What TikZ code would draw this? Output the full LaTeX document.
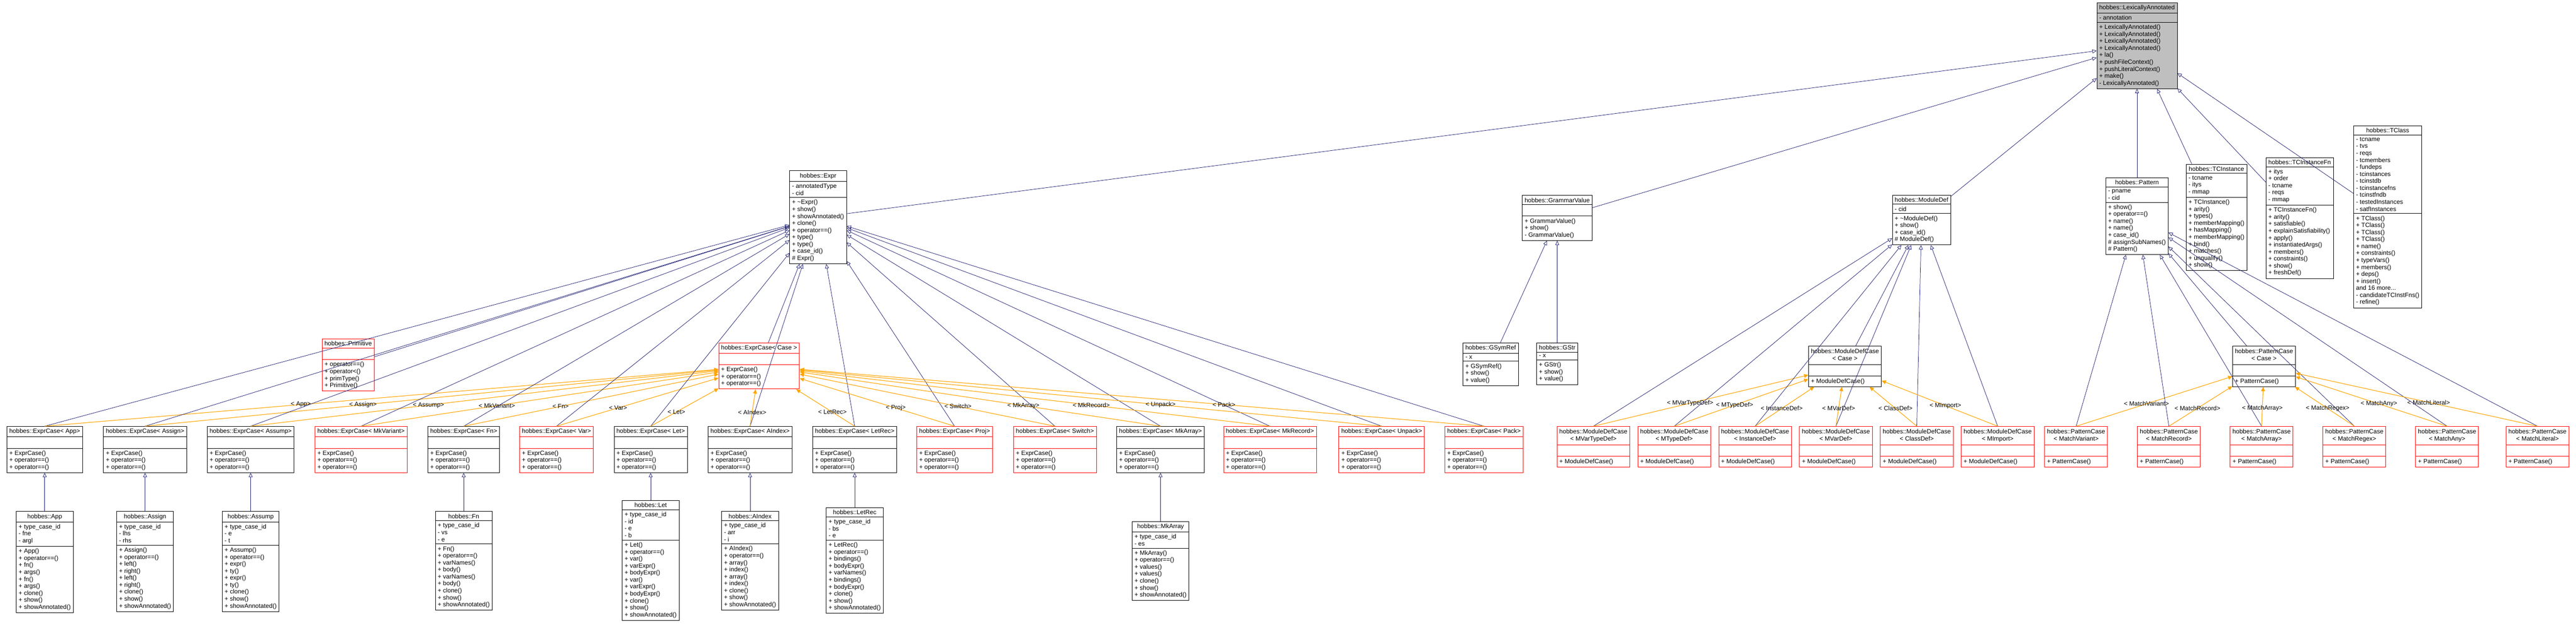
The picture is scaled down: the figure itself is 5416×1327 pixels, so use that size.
\documentclass[tikz,border=0pt]{standalone}
\usepackage{fontspec}
\setmainfont{Liberation Sans}
\usetikzlibrary{shapes.multipart,arrows.meta}
\definecolor{edgeblue}{HTML}{191970}
\definecolor{instorange}{HTML}{FFA500}
\newcommand{\ttl}[2]{\begin{tabular}{@{}c@{}}#1\\#2\end{tabular}}

\begin{document}
\begin{tikzpicture}[
    x=1pt, y=-1pt,
    cls/.style={rectangle split, rectangle split parts=3, draw, line width=0.9pt,
      fill=white, align=left, rectangle split part align={center,left,left},
      inner xsep=5pt, inner ysep=4.5pt,
      rectangle split empty part height=11pt, rectangle split empty part depth=3pt,
      font=\fontsize{13}{14.7}\selectfont, anchor=north},
    undoc/.style={cls, draw=red},
    base/.style={cls, fill=gray!50},
    inh/.style={draw=edgeblue, line width=0.8pt, {Triangle[open,length=9pt,width=8pt]}-},
    inst/.style={draw=instorange, line width=1.2pt, {Triangle[length=9pt,width=8pt]}-},
    elbl/.style={font=\fontsize{13}{14}\selectfont, inner sep=1pt}
   ]
   \useasboundingbox (0,0) rectangle (5416,1327);
   % base class
   \node[base] (lexann) at (4493,5) {hobbes::LexicallyAnnotated
     \nodepart{two} - annotation
     \nodepart{three} + LexicallyAnnotated()\\+ LexicallyAnnotated()\\+ LexicallyAnnotated()\\+ LexicallyAnnotated()\\+ la()\\+ pushFileContext()\\+ pushLiteralContext()\\+ make()\\- LexicallyAnnotated()};

   \node[cls] (expr) at (1720,359) {hobbes::Expr
     \nodepart{two} - annotatedType\\- cid
     \nodepart{three} + \textasciitilde Expr()\\+ show()\\+ showAnnotated()\\+ clone()\\+ operator==()\\+ type()\\+ type()\\+ case\_id()\\\# Expr()};
   \node[cls] (grammar) at (3274,411) {hobbes::GrammarValue
     \nodepart{two}
     \nodepart{three} + GrammarValue()\\+ show()\\- GrammarValue()};
   \node[cls] (moddef) at (4040,410) {hobbes::ModuleDef
     \nodepart{two} - cid
     \nodepart{three} + \textasciitilde ModuleDef()\\+ show()\\+ case\_id()\\\# ModuleDef()};
   \node[cls] (pattern) at (4493,374) {hobbes::Pattern
     \nodepart{two} - pname\\- cid
     \nodepart{three} + show()\\+ operator==()\\+ name()\\+ name()\\+ case\_id()\\\# assignSubNames()\\\# Pattern()};
   \node[cls] (tcinst) at (4660,345) {hobbes::TCInstance
     \nodepart{two} - tcname\\- itys\\- mmap
     \nodepart{three} + TCInstance()\\+ arity()\\+ types()\\+ memberMapping()\\+ hasMapping()\\+ memberMapping()\\+ bind()\\+ matches()\\+ unqualify()\\+ show()};
   \node[cls] (tcinstfn) at (4835,331) {hobbes::TCInstanceFn
     \nodepart{two} + itys\\+ order\\- tcname\\- reqs\\- mmap
     \nodepart{three} + TCInstanceFn()\\+ arity()\\+ satisfiable()\\+ explainSatisfiability()\\+ apply()\\+ instantiatedArgs()\\+ members()\\+ constraints()\\+ show()\\+ freshDef()};
   \node[cls] (tclass) at (5020,264) {hobbes::TClass
     \nodepart{two} - tcname\\- tvs\\- reqs\\- tcmembers\\- fundeps\\- tcinstances\\- tcinstdb\\- tcinstancefns\\- tcinstfndb\\- testedInstances\\- satfInstances
     \nodepart{three} + TClass()\\+ TClass()\\+ TClass()\\+ TClass()\\+ name()\\+ constraints()\\+ typeVars()\\+ members()\\+ deps()\\+ insert()\\and 16 more...\\- candidateTCInstFns()\\- refine()};

   \foreach \n in {expr,grammar,moddef,pattern,tcinst,tcinstfn,tclass}
     \draw[inh] (lexann) -- (\n);

   % expressions
   \node[undoc] (prim) at (732,713) {hobbes::Primitive
     \nodepart{two}
     \nodepart{three} + operator==()\\+ operator<()\\+ primType()\\+ Primitive()};
   \node[undoc] (ecase) at (1596,721) {hobbes::ExprCase< Case >
     \nodepart{two}
     \nodepart{three} + ExprCase()\\+ operator==()\\+ operator==()};
   \draw[inh] (expr) -- (prim);
   \draw[inh] (expr) -- (ecase);

   \foreach \n/\x/\c in {App/94/black, Assign/305/black, Assump/527/black, MkVariant/759/red,
       Fn/975/black, Var/1170/red, Let/1368/black, AIndex/1577/black, LetRec/1797/black,
       Proj/2007/red, Switch/2218/red, MkArray/2440/black, MkRecord/2670/red,
       Unpack/2905/red, Pack/3120/red} {
     \node[cls, draw=\c] (ec\n) at (\x,897) {hobbes::ExprCase< \n >
       \nodepart{two}
       \nodepart{three} + ExprCase()\\+ operator==()\\+ operator==()};
     \draw[inh] (expr) -- (ec\n.north);
     \draw[inst] (ecase) -- node[elbl, pos=0.62] {< \n >} (ec\n.north);
   }

   \node[cls] (app) at (94,1076) {hobbes::App
     \nodepart{two} + type\_case\_id\\- fne\\- argl
     \nodepart{three} + App()\\+ operator==()\\+ fn()\\+ args()\\+ fn()\\+ args()\\+ clone()\\+ show()\\+ showAnnotated()};
   \node[cls] (assign) at (305,1076) {hobbes::Assign
     \nodepart{two} + type\_case\_id\\- lhs\\- rhs
     \nodepart{three} + Assign()\\+ operator==()\\+ left()\\+ right()\\+ left()\\+ right()\\+ clone()\\+ show()\\+ showAnnotated()};
   \node[cls] (assump) at (527,1076) {hobbes::Assump
     \nodepart{two} + type\_case\_id\\- e\\- t
     \nodepart{three} + Assump()\\+ operator==()\\+ expr()\\+ ty()\\+ expr()\\+ ty()\\+ clone()\\+ show()\\+ showAnnotated()};
   \node[cls] (fn) at (975,1076) {hobbes::Fn
     \nodepart{two} + type\_case\_id\\- vs\\- e
     \nodepart{three} + Fn()\\+ operator==()\\+ varNames()\\+ body()\\+ varNames()\\+ body()\\+ clone()\\+ show()\\+ showAnnotated()};
   \node[cls] (let) at (1368,1053) {hobbes::Let
     \nodepart{two} + type\_case\_id\\- id\\- e\\- b
     \nodepart{three} + Let()\\+ operator==()\\+ var()\\+ varExpr()\\+ bodyExpr()\\+ var()\\+ varExpr()\\+ bodyExpr()\\+ clone()\\+ show()\\+ showAnnotated()};
   \node[cls] (aindex) at (1577,1076) {hobbes::AIndex
     \nodepart{two} + type\_case\_id\\- arr\\- i
     \nodepart{three} + AIndex()\\+ operator==()\\+ array()\\+ index()\\+ array()\\+ index()\\+ clone()\\+ show()\\+ showAnnotated()};
   \node[cls] (letrec) at (1797,1068) {hobbes::LetRec
     \nodepart{two} + type\_case\_id\\- bs\\- e
     \nodepart{three} + LetRec()\\+ operator==()\\+ bindings()\\+ bodyExpr()\\+ varNames()\\+ bindings()\\+ bodyExpr()\\+ clone()\\+ show()\\+ showAnnotated()};
   \node[cls] (mkarray) at (2440,1097) {hobbes::MkArray
     \nodepart{two} + type\_case\_id\\- es
     \nodepart{three} + MkArray()\\+ operator==()\\+ values()\\+ values()\\+ clone()\\+ show()\\+ showAnnotated()};
   \foreach \n/\m in {App/app, Assign/assign, Assump/assump, Fn/fn, Let/let, AIndex/aindex,
       LetRec/letrec, MkArray/mkarray}
     \draw[inh] (ec\n) -- (\m);

   % grammar values
   \node[cls] (gsymref) at (3134,721) {hobbes::GSymRef
     \nodepart{two} - x
     \nodepart{three} + GSymRef()\\+ show()\\+ value()};
   \node[cls] (gstr) at (3274,721) {hobbes::GStr
     \nodepart{two} - x
     \nodepart{three} + GStr()\\+ show()\\+ value()};
   \draw[inh] (grammar) -- (gsymref);
   \draw[inh] (grammar) -- (gstr);

   % module definitions
   \node[cls] (mcase) at (3879,728) {\ttl{hobbes::ModuleDefCase}{< Case >}
     \nodepart{two}
     \nodepart{three} + ModuleDefCase()};
   \draw[inh] (moddef) -- (mcase);
   \foreach \n/\x in {MVarTypeDef/3350, MTypeDef/3520, InstanceDef/3690, MVarDef/3860,
       ClassDef/4030, MImport/4200} {
     \node[undoc] (mc\n) at (\x,897) {\ttl{hobbes::ModuleDefCase}{< \n >}
       \nodepart{two}
       \nodepart{three} + ModuleDefCase()};
     \draw[inh] (moddef) -- (mc\n.north);
     \draw[inst] (mcase) -- node[elbl, pos=0.55] {< \n >} (mc\n.north);
   }

   % patterns
   \node[cls] (pcase) at (4760,728) {\ttl{hobbes::PatternCase}{< Case >}
     \nodepart{two}
     \nodepart{three} + PatternCase()};
   \draw[inh] (pattern) -- (pcase);
   \foreach \n/\x in {MatchVariant/4365, MatchRecord/4560, MatchArray/4755, MatchRegex/4950,
       MatchAny/5145, MatchLiteral/5335} {
     \node[undoc] (pc\n) at (\x,897) {\ttl{hobbes::PatternCase}{< \n >}
       \nodepart{two}
       \nodepart{three} + PatternCase()};
     \draw[inh] (pattern) -- (pc\n.north);
     \draw[inst] (pcase) -- node[elbl, pos=0.55] {< \n >} (pc\n.north);
   }
  \end{tikzpicture}
\end{document}
